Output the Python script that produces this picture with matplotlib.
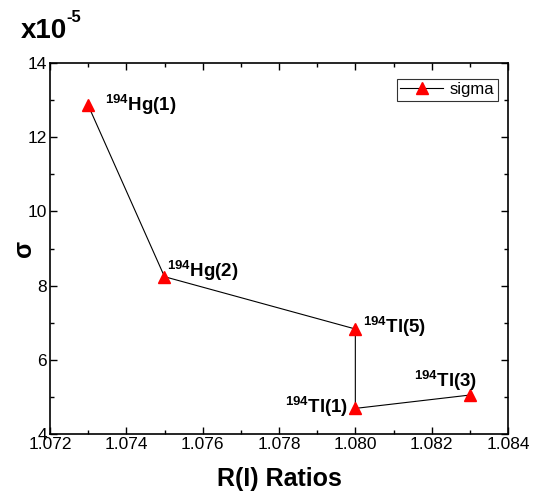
import matplotlib
matplotlib.use("Agg")
import matplotlib.pyplot as plt
from matplotlib.ticker import MultipleLocator

plt.rcParams['font.family'] = ['Liberation Sans', 'DejaVu Sans']
plt.rcParams['mathtext.fontset'] = 'custom'
plt.rcParams['mathtext.rm'] = 'Liberation Sans'
plt.rcParams['mathtext.bf'] = 'Liberation Sans:bold'
plt.rcParams['mathtext.it'] = 'Liberation Sans:italic'

# Data
r_ratios = [1.073, 1.075, 1.080, 1.080, 1.083]
sigma = [12.86, 8.24, 6.83, 4.69, 5.05]  # x10^-5
labels = ["Hg(1)", "Hg(2)", "Tl(5)", "Tl(1)", "Tl(3)"]
mass = "194"
label_x = [1.07344, 1.07506, 1.08021, 1.07816, 1.08154]
label_y = [12.71, 8.22, 6.71, 4.56, 5.26]

fig = plt.figure(figsize=(5.39, 4.95), dpi=100)
ax = fig.add_axes([50/539, 61/495, 458/539, 371/495])

ax.plot(r_ratios, sigma, color='black', lw=0.8, marker='^', ms=8,
        mfc='red', mec='red', label='sigma')

for lx, ly, lab in zip(label_x, label_y, labels):
    ax.text(lx, ly, r"$\mathbf{^{%s}}$" % mass + lab, fontsize=13.5,
            fontweight='bold', ha='left', va='baseline')

ax.set_xlim(1.072, 1.084)
ax.set_ylim(4, 14)
ax.xaxis.set_major_locator(MultipleLocator(0.002))
ax.xaxis.set_minor_locator(MultipleLocator(0.001))
ax.yaxis.set_major_locator(MultipleLocator(2))
ax.yaxis.set_minor_locator(MultipleLocator(1))
ax.xaxis.set_major_formatter(matplotlib.ticker.FormatStrFormatter('%.3f'))
ax.tick_params(which='both', direction='in', top=True, right=True,
               labelsize=12.5, width=1.0, pad=2)
ax.tick_params(which='major', length=5)
ax.tick_params(which='minor', length=3)
for s in ax.spines.values():
    s.set_linewidth(1.2)

ax.set_xlabel("R(I) Ratios", fontsize=18, fontweight='bold')
ax.xaxis.set_label_coords(0.5, -0.088)
ax.set_ylabel("σ", fontsize=18, fontweight='bold')
ax.yaxis.set_label_coords(-0.03, 0.5)

fig.text(21/539, 1 - 38/495, "x10", fontsize=20,
         fontweight='bold', ha='left', va='baseline')
fig.text(66/539, 1 - 22/495, "-5", fontsize=12,
         fontweight='bold', ha='left', va='baseline')

leg = ax.legend(loc='upper right', bbox_to_anchor=(1 - 10/458, 1 - 16/371),
                fontsize=12, frameon=True, fancybox=False, borderaxespad=0,
                handlelength=2.6, borderpad=0.2, handletextpad=0.4)
leg.get_frame().set_edgecolor('black')
leg.get_frame().set_linewidth(0.8)

fig.savefig("out.png", dpi=100)
